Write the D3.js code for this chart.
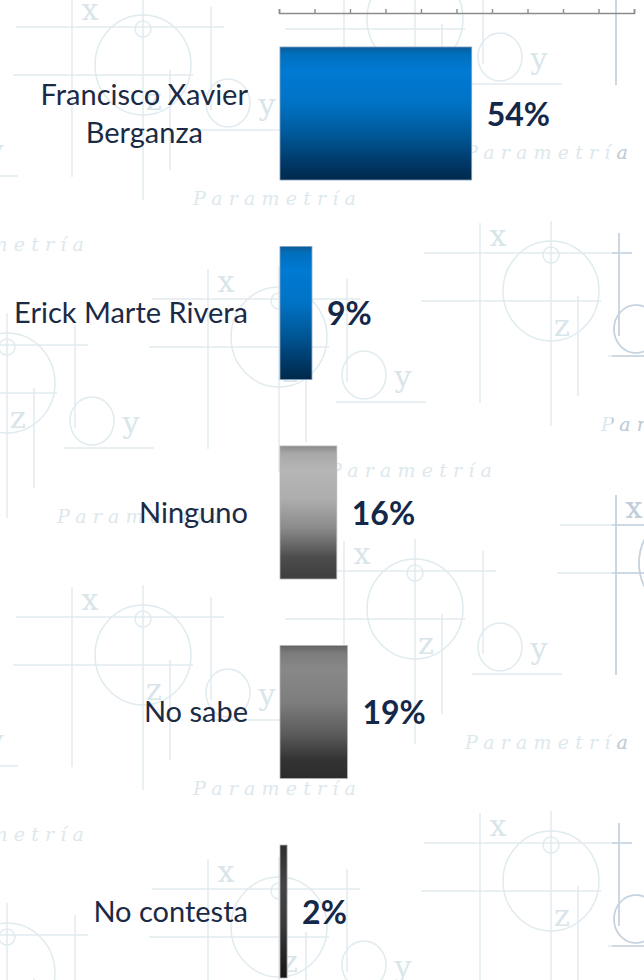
<!DOCTYPE html>
<html>
<head>
<meta charset="utf-8">
<script src="https://cdn.jsdelivr.net/npm/d3@7"></script>
<style>
  body { margin: 0; background: #fff; }
  svg { display: block; }
</style>
</head>
<body>
<div id="chart"></div>
<script>
// data
const categories = ["Francisco Xavier Berganza", "Erick Marte Rivera", "Ninguno", "No sabe", "No contesta"];
const values = [54, 9, 16, 19, 2];
const xTicks = [0, 10, 20, 30, 40, 50, 60, 70, 80, 90, 100];

// bar fills (vertical gradients), one per category
const barStyles = [
  [["0%", "#0d5b96"], ["5%", "#006fbd"], ["18%", "#007ad3"], ["42%", "#0073c6"], ["66%", "#005898"], ["86%", "#003a6a"], ["100%", "#00294a"]],
  [["0%", "#0d5b96"], ["5%", "#006fbd"], ["18%", "#007ad3"], ["42%", "#0073c6"], ["66%", "#005898"], ["86%", "#003a6a"], ["100%", "#00294a"]],
  [["0%", "#8c8c8c"], ["6%", "#a8a8a8"], ["18%", "#b6b6b6"], ["40%", "#adadad"], ["62%", "#8a8a8a"], ["84%", "#4c4c4c"], ["100%", "#3e3e3e"]],
  [["0%", "#646464"], ["6%", "#7c7c7c"], ["18%", "#888888"], ["42%", "#7e7e7e"], ["66%", "#5c5c5c"], ["86%", "#333333"], ["100%", "#2c2c2c"]],
  [["0%", "#2e2e2e"], ["30%", "#444444"], ["60%", "#3a3a3a"], ["100%", "#151515"]]
];

const W = 644, H = 980;
const svg = d3.select("#chart").append("svg").attr("width", W).attr("height", H);

// ---- background watermark (decorative tile) ----
const defs = svg.append("defs");
defs.append("clipPath").attr("id", "rightEdge")
  .append("rect").attr("x", 612).attr("y", 0).attr("width", 40).attr("height", H);

const inView = (px, py) => px > -20 && px < W + 10 && py > -10 && py < H + 25;

function motif(g, xl, yl) {
  const ln = (x1, y1, x2, y2) => g.append("line").attr("x1", x1).attr("y1", y1).attr("x2", x2).attr("y2", y2);
  ln(xl - 18, yl - 13, xl - 18, yl + 167);
  ln(xl - 74, yl + 17, xl + 134, yl + 17);
  ln(xl + 53, yl - 15, xl + 53, yl + 190);
  ln(xl - 77, yl + 65, xl + 103, yl + 65);
  ln(xl + 121, yl - 3, xl + 121, yl + 100);
  ln(xl + 110, yl + 120, xl + 200, yl + 120);
  ln(xl + 80, yl + 60, xl + 80, yl + 160);
  g.append("circle").attr("cx", xl + 53).attr("cy", yl + 19).attr("r", 8);
  g.append("ellipse").attr("cx", xl + 53).attr("cy", yl + 55).attr("rx", 48).attr("ry", 50);
  g.append("ellipse").attr("cx", xl + 138).attr("cy", yl + 93).attr("rx", 22).attr("ry", 24);
  const letter = (t, x0, y0) => {
    if (inView(x0, y0)) g.append("text").attr("class", "wm-l").attr("x", x0).attr("y", y0).text(t);
  };
  letter("x", xl, yl + 10);
  letter("z", xl + 64, yl + 100);
  letter("y", xl + 177, yl + 105);
  if (xl + 103 > -150 && xl + 103 < W && inView(W / 2, yl + 195)) {
    g.append("text").attr("class", "wm-t").attr("x", xl + 103).attr("y", yl + 195).text("Parametría");
  }
}

function drawWatermark(g) {
  for (let i = -3; i < 7; i++) {
    const x0 = 90 + 136 * i;
    let y0 = (((10 + 272 * i) % 590) + 590) % 590 - 590;
    for (let yy = y0; yy < H + 100; yy += 590) motif(g, x0, yy);
  }
}

const wm = svg.append("g").attr("fill", "none").attr("stroke", "#e0ebef").attr("stroke-width", 1.5);
drawWatermark(wm);
const wmDark = svg.append("g").attr("clip-path", "url(#rightEdge)")
  .attr("fill", "none").attr("stroke", "#c6d2de").attr("stroke-width", 1.7);
drawWatermark(wmDark);
svg.selectAll(".wm-l").attr("stroke", "none").attr("fill", "#d8e5ea")
  .attr("font-family", "'DejaVu Serif', serif").attr("font-size", 30).attr("text-anchor", "middle");
svg.selectAll(".wm-t").attr("stroke", "none").attr("fill", "#dde8ed")
  .attr("font-family", "'DejaVu Serif', serif").attr("font-style", "italic")
  .attr("font-size", 19).attr("letter-spacing", 6.2);
wmDark.selectAll(".wm-l, .wm-t").attr("fill", "#c0cdda");

// ---- scales ----
const x = d3.scaleLinear().domain([0, 100]).range([279, 634]);
const y = d3.scaleBand().domain(categories).range([13.75, 1011.25]).paddingInner(1 / 3).paddingOuter(1 / 6);

// gradients
barStyles.forEach((stops, i) => {
  const lg = defs.append("linearGradient").attr("id", "g" + i)
    .attr("x1", 0).attr("y1", 0).attr("x2", 0).attr("y2", 1);
  stops.forEach(s => lg.append("stop").attr("offset", s[0]).attr("stop-color", s[1]));
});

// axis on top, no labels
const axis = svg.append("g").attr("transform", "translate(0,13)")
  .call(d3.axisTop(x).tickValues(xTicks).tickSize(4).tickSizeOuter(4).tickFormat(""));
axis.select(".domain").attr("stroke", "#8c8c8c").attr("stroke-width", 1.6);
axis.selectAll(".tick line").attr("stroke", "#8c8c8c").attr("stroke-width", 1.4);

// bars
const data = categories.map((c, i) => ({ c, v: values[i], i }));
svg.selectAll(".bar").data(data).enter().append("rect")
  .attr("class", "bar")
  .attr("x", x(0) + 1)
  .attr("y", d => y(d.c))
  .attr("width", d => x(d.v) - x(0))
  .attr("height", y.bandwidth())
  .attr("fill", d => "url(#g" + d.i + ")")
  .attr("stroke", d => d.i < 2 ? "#7f9fbd" : "#b4b4b4")
  .attr("stroke-width", 0.8);

// value labels
svg.selectAll(".val").data(data).enter().append("text")
  .attr("class", "val")
  .attr("x", d => x(d.v) + 16)
  .attr("y", d => y(d.c) + y.bandwidth() / 2 + 12)
  .attr("font-family", "Lato, sans-serif")
  .attr("font-weight", "bold")
  .attr("font-size", 32)
  .attr("fill", "#14284a")
  .text(d => d.v + "%");

// category labels, wrapped
const labelRight = 248;
const lineGap = 38;
const labels = svg.selectAll(".cat").data(data).enter().append("text")
  .attr("class", "cat")
  .attr("font-family", "Lato, sans-serif")
  .attr("font-size", 29)
  .attr("fill", "#1b2a45");

labels.each(function (d) {
  const t = d3.select(this);
  const words = d.c.split(" ");
  const lines = [];
  let cur = [];
  const probe = t.append("tspan");
  words.forEach(w => {
    const test = cur.concat(w).join(" ");
    probe.text(test);
    if (probe.node().getComputedTextLength() > 245 && cur.length) {
      lines.push(cur.join(" "));
      cur = [w];
    } else cur.push(w);
  });
  lines.push(cur.join(" "));
  probe.remove();
  const cy = y(d.c) + y.bandwidth() / 2 + 10;
  if (lines.length === 1) {
    t.attr("text-anchor", "end").attr("x", labelRight).attr("y", cy).text(lines[0]);
  } else {
    const widths = lines.map(l => { const s = t.append("tspan").text(l); const w = s.node().getComputedTextLength(); s.remove(); return w; });
    const cx = labelRight - d3.max(widths) / 2;
    t.attr("text-anchor", "middle");
    lines.forEach((l, k) => {
      t.append("tspan").attr("x", cx)
        .attr("y", cy + (k - (lines.length - 1) / 2) * lineGap)
        .text(l);
    });
  }
});
</script>
</body>
</html>
